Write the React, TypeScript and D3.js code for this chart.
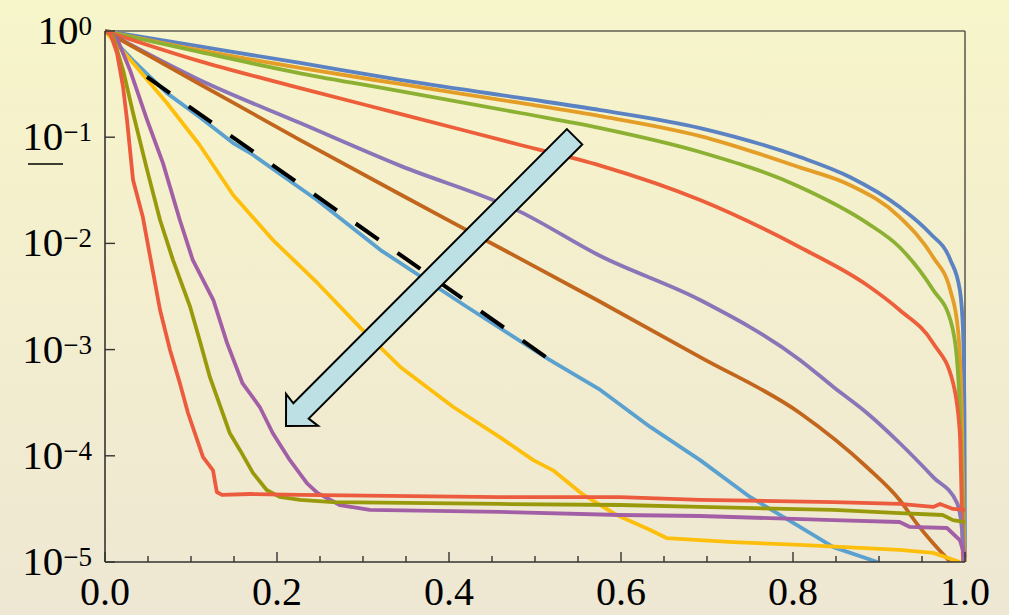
import React from "react";
import * as d3 from "d3";

type Pt = [number, number];

// Series values: [x, y] (y on log scale)
const seriesBlue: Pt[] = [[0,1],[0.11,0.715],[0.227,0.5],[0.343,0.346],[0.483,0.234],[0.576,0.18],[0.692,0.122],[0.808,0.065],[0.866,0.0422],[0.924,0.022],[0.959,0.0125],[0.983,0.00698],[0.994,0.00364],[0.9977,0.00153],[0.9994,2.17e-4],[1.0,1e-5]];
const seriesOrange: Pt[] = [[0,1],[0.11,0.66],[0.227,0.449],[0.343,0.317],[0.483,0.21],[0.576,0.158],[0.692,0.1025],[0.808,0.052],[0.866,0.0355],[0.924,0.0177],[0.963,0.0074],[0.983,0.0036],[0.9919,0.00153],[0.9965,2.2e-4],[0.9988,2.0e-5],[1.0,1e-5]];
const seriesGreen: Pt[] = [[0,1],[0.11,0.634],[0.227,0.4],[0.343,0.272],[0.483,0.169],[0.576,0.122],[0.692,0.0726],[0.808,0.034],[0.886,0.0156],[0.924,0.0092],[0.963,0.00364],[0.983,0.0019],[0.9907,8.0e-4],[0.9953,1.4e-4],[0.9977,2.5e-5],[0.9988,1e-5]];
const seriesRedOrange: Pt[] = [[0,1],[0.11,0.52],[0.227,0.29],[0.343,0.166],[0.483,0.0845],[0.576,0.054],[0.692,0.0256],[0.808,0.0092],[0.886,0.00406],[0.924,0.00236],[0.963,0.00115],[0.986,4.9e-4],[0.994,1.64e-4],[0.9965,2.65e-5],[0.9977,1e-5]];
const seriesPurple: Pt[] = [[0,1],[0.11,0.346],[0.227,0.136],[0.343,0.054],[0.483,0.0198],[0.576,0.0076],[0.692,0.00293],[0.808,8.0e-4],[0.847,4.45e-4],[0.886,2.53e-4],[0.924,1.32e-4],[0.963,6.3e-5],[0.9907,3.6e-5],[0.9965,2.0e-5],[0.999,1e-5]];
const seriesBrown: Pt[] = [[0,1],[0.11,0.317],[0.227,0.094],[0.343,0.029],[0.459,0.0091],[0.572,0.00293],[0.692,8.5e-4],[0.808,2.53e-4],[0.886,7.8e-5],[0.924,3.84e-5],[0.944,2.3e-5],[0.963,1.5e-5],[0.983,1e-5]];
const seriesLightBlue: Pt[] = [[0,1],[0.0326,0.53],[0.072,0.26],[0.11,0.155],[0.149,0.088],[0.169,0.071],[0.2465,0.0256],[0.32,0.0087],[0.421,0.00252],[0.517,8.0e-4],[0.576,4.17e-4],[0.634,1.87e-4],[0.692,9.1e-5],[0.75,4.1e-5],[0.808,2.14e-5],[0.847,1.38e-5],[0.898,1e-5]];
const seriesYellow: Pt[] = [[0,1],[0.0326,0.5],[0.072,0.21],[0.11,0.0845],[0.149,0.0286],[0.195,0.0108],[0.247,0.00424],[0.297,0.0016],[0.343,6.9e-4],[0.405,2.88e-4],[0.459,1.5e-4],[0.498,9.1e-5],[0.521,7.3e-5],[0.556,4.3e-5],[0.595,2.77e-5],[0.634,2.0e-5],[0.653,1.68e-5],[0.73,1.54e-5],[0.808,1.45e-5],[0.924,1.3e-5],[0.963,1.22e-5],[0.994,1e-5]];
const seriesMagenta: Pt[] = [[0,1],[0.014,0.85],[0.029,0.43],[0.049,0.145],[0.0674,0.057],[0.087,0.0166],[0.102,0.007],[0.126,0.00293],[0.142,0.00115],[0.16,4.8e-4],[0.18,2.88e-4],[0.195,1.64e-4],[0.215,9.1e-5],[0.235,5.5e-5],[0.247,4.47e-5],[0.273,3.44e-5],[0.308,3.09e-5],[0.459,2.96e-5],[0.599,2.77e-5],[0.692,2.71e-5],[0.847,2.48e-5],[0.924,2.38e-5],[0.936,2.14e-5],[0.979,2.09e-5],[0.994,1.61e-5],[1.0,1.11e-5]];
const seriesOlive: Pt[] = [[0,1],[0.009,0.9],[0.021,0.43],[0.0326,0.169],[0.049,0.049],[0.064,0.0166],[0.079,0.007],[0.099,0.00252],[0.11,0.00123],[0.122,5.5e-4],[0.145,1.64e-4],[0.157,1.13e-4],[0.172,6.9e-5],[0.188,4.76e-5],[0.203,4.1e-5],[0.227,3.84e-5],[0.265,3.67e-5],[0.459,3.52e-5],[0.599,3.44e-5],[0.692,3.3e-5],[0.847,3.09e-5],[0.924,2.89e-5],[0.974,2.77e-5],[0.986,2.48e-5],[1.0,2.38e-5]];
const seriesRed: Pt[] = [[0,1],[0.006,0.95],[0.014,0.62],[0.021,0.297],[0.0256,0.145],[0.0326,0.0395],[0.044,0.0177],[0.0547,0.006],[0.064,0.00236],[0.0756,9.9e-4],[0.087,4.84e-4],[0.0965,2.53e-4],[0.114,9.7e-5],[0.1256,7.3e-5],[0.13,4.56e-5],[0.136,4.28e-5],[0.169,4.37e-5],[0.227,4.28e-5],[0.459,4.09e-5],[0.599,4.09e-5],[0.692,3.84e-5],[0.847,3.67e-5],[0.924,3.52e-5],[0.963,3.3e-5],[0.971,3.52e-5],[0.986,3.16e-5],[1.0,3.09e-5]];

// Dashed reference line (exponential fit)
const dashedLine: Pt[] = [[0.0488, 0.369], [0.5174, 8.0e-4]];

// Arrow annotation: tip and tail in data coordinates
const arrowTip: Pt = [0.2105, 1.91e-4];
const arrowTail: Pt = [0.546, 0.101];

const xTicksMajor = [0, 0.2, 0.4, 0.6, 0.8, 1.0];
const xTicksAll = d3.range(0, 21).map((i) => i / 20);
const yTickExps = [0, -1, -2, -3, -4, -5];

const seriesList = [
  { data: seriesBlue, color: "#5B82C2", smooth: true },
  { data: seriesOrange, color: "#E49D27", smooth: true },
  { data: seriesGreen, color: "#8CB032", smooth: true },
  { data: seriesRedOrange, color: "#EC5F3A", smooth: true },
  { data: seriesPurple, color: "#8B74B8", smooth: true },
  { data: seriesBrown, color: "#C2661D", smooth: true },
  { data: seriesLightBlue, color: "#5BA1CF", smooth: false },
  { data: seriesYellow, color: "#FDBF0C", smooth: false },
  { data: seriesMagenta, color: "#A35FA6", smooth: false },
  { data: seriesOlive, color: "#999A0B", smooth: false },
  { data: seriesRed, color: "#EC5B3D", smooth: false },
];

const W = 1009;
const H = 615;
const L = 105, R = 965, T = 31, B = 562;

export default function App() {
  const x = d3.scaleLinear().domain([0, 1]).range([L, R]);
  const y = d3.scaleLog().domain([1e-5, 1]).range([B, T]);

  const lineSmooth = d3.line<Pt>().x((d) => x(d[0])).y((d) => y(d[1])).curve(d3.curveMonotoneX);
  const lineLin = d3.line<Pt>().x((d) => x(d[0])).y((d) => y(d[1]));

  // arrow geometry
  const tx = x(arrowTip[0]), ty = y(arrowTip[1]);
  const sx = x(arrowTail[0]), sy = y(arrowTail[1]);
  const len = Math.hypot(sx - tx, sy - ty);
  const ux = (sx - tx) / len, uy = (sy - ty) / len;
  const nx = -uy, ny = ux;
  const headL = 22.7, jointL = 21.2, headW = 22.6, shaftW = 10.85;
  const arrowPts: Pt[] = [
    [tx, ty],
    [tx + ux * headL + nx * headW, ty + uy * headL + ny * headW],
    [tx + ux * jointL + nx * shaftW, ty + uy * jointL + ny * shaftW],
    [sx + nx * shaftW, sy + ny * shaftW],
    [sx - nx * shaftW, sy - ny * shaftW],
    [tx + ux * jointL - nx * shaftW, ty + uy * jointL - ny * shaftW],
    [tx + ux * headL - nx * headW, ty + uy * headL - ny * headW],
  ];

  const font = "'Liberation Serif', 'DejaVu Serif', 'Times New Roman', serif";

  return (
    <svg width={W} height={H} style={{ position: "absolute", left: 0, top: 0 }}>
      <defs>
        <linearGradient id="bg" x1="0" y1="0" x2="0" y2="1">
          <stop offset="0" stopColor="#F7F5CA" />
          <stop offset="1" stopColor="#EEE7D3" />
        </linearGradient>
        <clipPath id="plotClip">
          <rect x={L} y={T - 4} width={R - L + 4} height={B - T + 4} />
        </clipPath>
      </defs>
      <rect x={0} y={0} width={W} height={H} fill="url(#bg)" />

      {/* frame top & right */}
      <line x1={L} y1={T} x2={R} y2={T} stroke="#5f5f52" strokeWidth={1.6} />
      <line x1={R} y1={T} x2={R} y2={B} stroke="#5f5f52" strokeWidth={1.6} />

      {/* curves */}
      <g clipPath="url(#plotClip)" fill="none" strokeLinejoin="round">
        {seriesList.map((s, i) => (
          <path key={i} d={(s.smooth ? lineSmooth : lineLin)(s.data) || ""} stroke={s.color} strokeWidth={3.8} />
        ))}
        <path d={lineLin(dashedLine) || ""} stroke="#000" strokeWidth={4} strokeDasharray="28 23" />
      </g>

      {/* axes */}
      <line x1={L} y1={T} x2={L} y2={B} stroke="#333" strokeWidth={1.6} />
      <line x1={L} y1={B} x2={R} y2={B} stroke="#333" strokeWidth={1.6} />

      {/* y ticks */}
      {yTickExps.map((e) => (
        <line key={"yt" + e} x1={L} x2={L + 10} y1={y(Math.pow(10, e))} y2={y(Math.pow(10, e))} stroke="#333" strokeWidth={1.4} />
      ))}
      {/* x ticks */}
      {xTicksAll.map((t, i) => (
        <line key={"xt" + i} x1={x(t)} x2={x(t)} y1={B} y2={B - (i % 4 === 0 ? 10 : 6)} stroke="#333" strokeWidth={1.4} />
      ))}

      {/* y labels */}
      {yTickExps.map((e) => (
        <text key={"yl" + e} x={92} y={y(Math.pow(10, e)) + 13} textAnchor="end" fontFamily={font} fontSize={41} fill="#000">
          10
          <tspan dy={-9} fontSize={27}>{e === 0 ? "0" : "\u2212" + String(-e)}</tspan>
        </text>
      ))}
      <line x1={28} x2={63} y1={164} y2={164} stroke="#000" strokeWidth={1.6} />

      {/* x labels */}
      {xTicksMajor.map((t) => (
        <text key={"xl" + t} x={x(t)} y={605} textAnchor="middle" fontFamily={font} fontSize={40} fill="#000">
          {t.toFixed(1)}
        </text>
      ))}

      {/* arrow */}
      <polygon points={arrowPts.map((p) => p.join(",")).join(" ")} fill="#BCE0E3" stroke="#000" strokeWidth={2} strokeLinejoin="miter" />
    </svg>
  );
}
